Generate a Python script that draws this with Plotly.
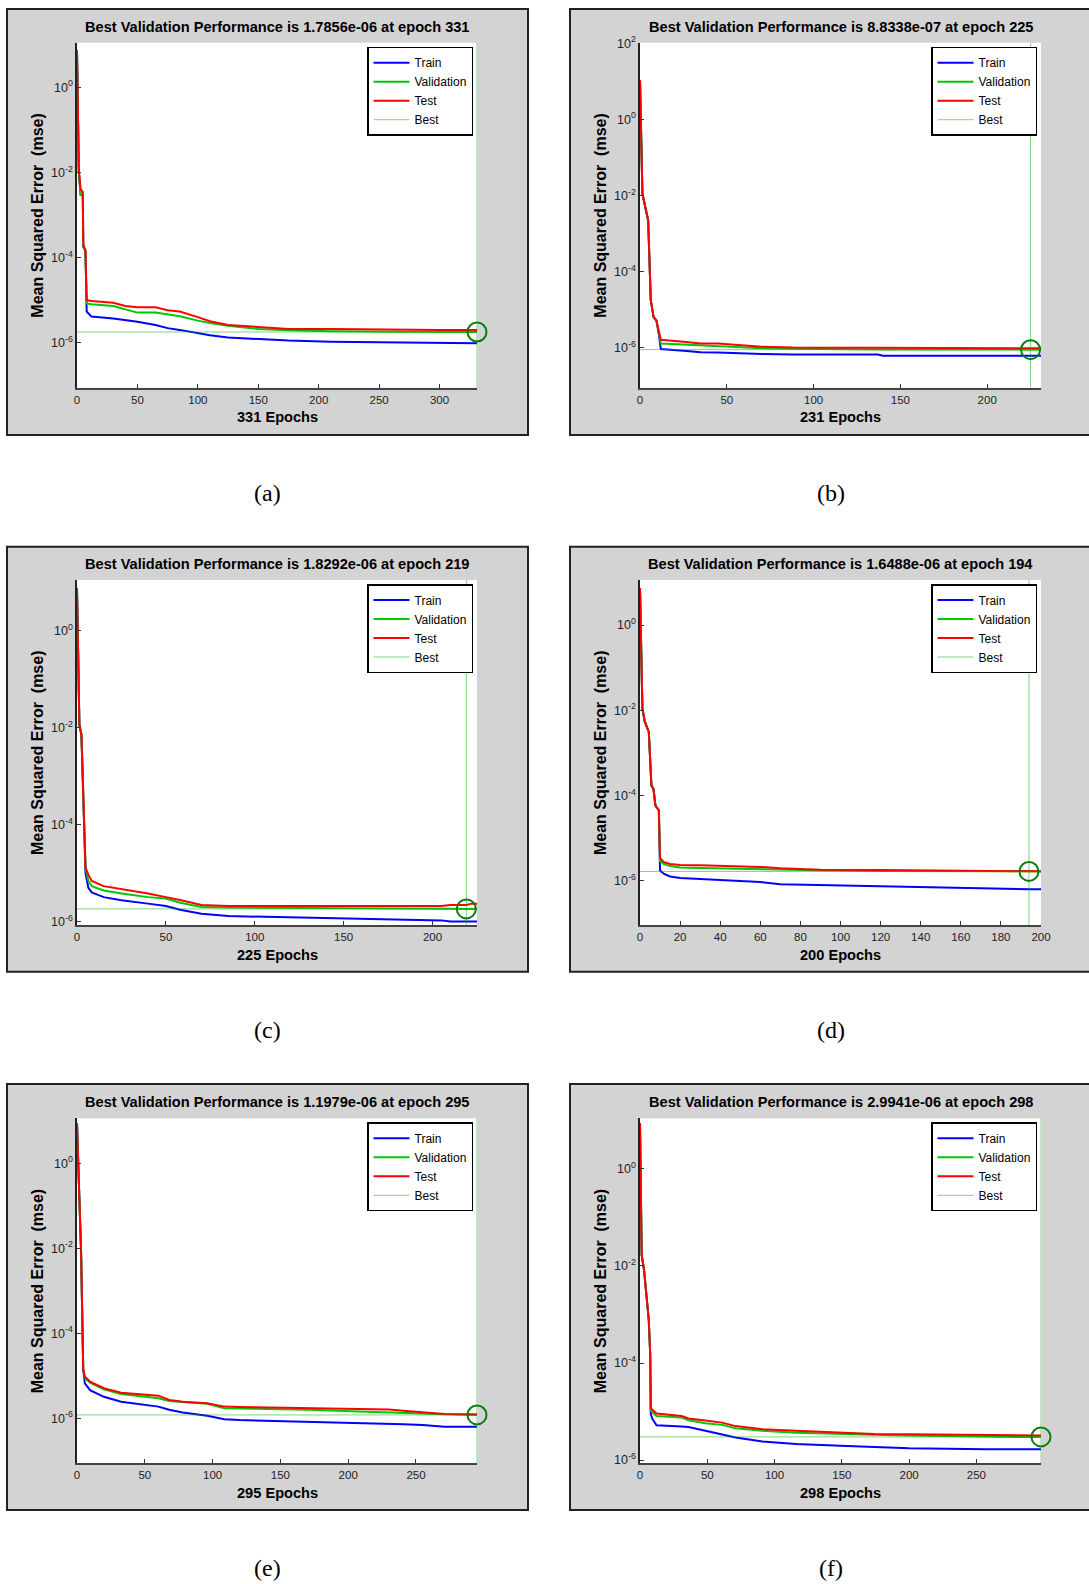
import plotly.graph_objects as go

W, H = 1089, 1584
FONT = "Liberation Sans, Arial, sans-serif"

# ---------------- data ----------------
panel_labels = ["(a)", "(b)", "(c)", "(d)", "(e)", "(f)"]
n_epochs = [331, 231, 225, 200, 295, 298]
best_epoch = [331, 225, 219, 194, 295, 298]
best_perf = [1.7856e-06, 8.8338e-07, 1.8292e-06, 1.6488e-06, 1.1979e-06, 2.9941e-06]

epochs_a = [0, 1.5, 3, 4.8, 5.2, 7, 8, 12, 30, 40, 50, 65, 75, 85, 100, 110, 125, 150, 175, 210, 265, 300, 331]
train_a = [7, 0.01, 0.003, 0.003, 1.8e-4, 1.4e-4, 5.4e-6, 4.1e-6, 3.7e-6, 3.4e-6, 3.1e-6, 2.6e-6, 2.2e-6, 2.0e-6,
           1.66e-6, 1.5e-6, 1.33e-6, 1.2e-6, 1.12e-6, 1.05e-6, 1.0e-6, 9.7e-7, 9.7e-7]
val_a = [7, 0.01, 0.003, 0.003, 1.8e-4, 1.4e-4, 8.4e-6, 8.0e-6, 7.3e-6, 6.2e-6, 5.1e-6, 5.1e-6, 4.6e-6, 4.2e-6,
         3.3e-6, 2.9e-6, 2.5e-6, 2.1e-6, 1.95e-6, 1.85e-6, 1.82e-6, 1.8e-6, 1.7856e-6]
test_a = [7.5, 0.012, 0.004, 0.0035, 2e-4, 1.5e-4, 1.0e-5, 9.5e-6, 8.7e-6, 7.3e-6, 6.8e-6, 6.8e-6, 5.8e-6, 5.4e-6,
          4.0e-6, 3.2e-6, 2.6e-6, 2.3e-6, 2.1e-6, 2.1e-6, 2.0e-6, 2.0e-6, 2.0e-6]

epochs_b = [0, 1.4, 4.7, 6.2, 7.8, 9.5, 11, 12, 25, 35, 45, 55, 70, 88, 125, 137, 140, 200, 225, 231]
train_b = [10.7, 0.011, 0.0022, 1.8e-5, 6.3e-6, 5.0e-6, 2.0e-6, 9.2e-7, 8.3e-7, 7.6e-7, 7.4e-7, 7.1e-7, 6.8e-7,
           6.6e-7, 6.6e-7, 6.6e-7, 6.1e-7, 6.1e-7, 6.1e-7, 6.1e-7]
val_b = [10.7, 0.011, 0.0022, 1.8e-5, 6.3e-6, 5.0e-6, 2.3e-6, 1.28e-6, 1.2e-6, 1.15e-6, 1.1e-6, 1.02e-6, 9.6e-7,
         9.3e-7, 8.9e-7, 8.9e-7, 8.86e-7, 8.85e-7, 8.8338e-7, 8.84e-7]
test_b = [10.7, 0.011, 0.0022, 1.8e-5, 6.5e-6, 5.2e-6, 2.5e-6, 1.6e-6, 1.43e-6, 1.28e-6, 1.28e-6, 1.17e-6, 1.05e-6,
          1.0e-6, 1.0e-6, 9.6e-7, 9.6e-7, 9.6e-7, 9.6e-7, 9.6e-7]

epochs_c = [0, 1.35, 2.5, 4.8, 6.4, 8.3, 15, 25, 40, 50, 58, 70, 85, 120, 150, 180, 205, 210, 219, 222, 225]
train_c = [7.6, 0.0115, 0.0072, 1.0e-5, 5.0e-6, 4.0e-6, 3.2e-6, 2.75e-6, 2.35e-6, 2.1e-6, 1.75e-6, 1.45e-6,
           1.3e-6, 1.22e-6, 1.13e-6, 1.1e-6, 1.06e-6, 1.0e-6, 1.0e-6, 1.0e-6, 1.0e-6]
val_c = [7.6, 0.0115, 0.0072, 1.3e-5, 6.9e-6, 5.4e-6, 4.4e-6, 3.8e-6, 3.2e-6, 3.0e-6, 2.45e-6, 2.0e-6, 1.95e-6,
         1.9e-6, 1.87e-6, 1.85e-6, 1.84e-6, 1.84e-6, 1.8292e-6, 1.83e-6, 1.835e-6]
test_c = [7.6, 0.0115, 0.0072, 1.3e-5, 9.3e-6, 6.9e-6, 5.4e-6, 4.7e-6, 3.8e-6, 3.2e-6, 2.8e-6, 2.2e-6, 2.1e-6,
          2.1e-6, 2.1e-6, 2.1e-6, 2.1e-6, 2.2e-6, 2.2e-6, 2.35e-6, 2.35e-6]

epochs_d = [0, 1.2, 2.4, 4.4, 5.7, 6.7, 7.7, 9.4, 10, 12, 15, 20, 30, 50, 60, 70, 90, 120, 163, 190, 194, 200]
train_d = [7.3, 0.011, 0.0054, 0.0031, 1.7e-4, 1.45e-4, 5.8e-5, 4.5e-5, 1.73e-6, 1.44e-6, 1.26e-6, 1.15e-6,
           1.1e-6, 1.0e-6, 9.3e-7, 8.3e-7, 7.9e-7, 7.5e-7, 6.8e-7, 6.3e-7, 6.3e-7, 6.3e-7]
val_d = [7.3, 0.011, 0.0054, 0.0031, 1.7e-4, 1.45e-4, 5.8e-5, 4.5e-5, 2.9e-6, 2.45e-6, 2.2e-6, 2.05e-6, 2.0e-6,
         1.9e-6, 1.85e-6, 1.8e-6, 1.75e-6, 1.7e-6, 1.67e-6, 1.655e-6, 1.6488e-6, 1.65e-6]
test_d = [7.3, 0.011, 0.0054, 0.0031, 1.7e-4, 1.45e-4, 5.8e-5, 4.5e-5, 3.4e-6, 2.7e-6, 2.46e-6, 2.35e-6, 2.3e-6,
          2.2e-6, 2.1e-6, 1.95e-6, 1.8e-6, 1.78e-6, 1.73e-6, 1.68e-6, 1.66e-6, 1.66e-6]

epochs_e = [0, 2.5, 3, 4.6, 5.8, 9.6, 19.8, 32.5, 45, 60, 68, 78, 96, 108.7, 120, 145, 172, 207.6, 230, 240.7,
            255, 271, 295]
train_e = [8.7, 0.011, 0.0083, 1.4e-5, 6.6e-6, 4.6e-6, 3.2e-6, 2.45e-6, 2.18e-6, 1.88e-6, 1.58e-6, 1.36e-6,
           1.15e-6, 9.5e-7, 9.1e-7, 8.7e-7, 8.2e-7, 7.9e-7, 7.4e-7, 7.2e-7, 6.9e-7, 6.3e-7, 6.3e-7]
val_e = [8.7, 0.011, 0.0083, 1.4e-5, 9.0e-6, 6.9e-6, 4.8e-6, 3.7e-6, 3.3e-6, 2.95e-6, 2.55e-6, 2.4e-6, 2.2e-6,
         1.72e-6, 1.7e-6, 1.65e-6, 1.58e-6, 1.45e-6, 1.4e-6, 1.36e-6, 1.3e-6, 1.25e-6, 1.1979e-6]
test_e = [8.7, 0.011, 0.0083, 1.4e-5, 9.5e-6, 7.3e-6, 5.1e-6, 4.0e-6, 3.7e-6, 3.4e-6, 2.7e-6, 2.45e-6, 2.25e-6,
          1.88e-6, 1.85e-6, 1.8e-6, 1.75e-6, 1.63e-6, 1.6e-6, 1.51e-6, 1.36e-6, 1.26e-6, 1.25e-6]

epochs_f = [0, 1.25, 3, 4.8, 6.5, 7.6, 8, 9, 12.3, 31, 36, 48.6, 61, 71, 91, 116, 149, 174, 200, 257, 267, 298]
train_f = [8.8, 0.017, 0.0083, 0.0023, 7.8e-4, 1.5e-4, 9.1e-6, 7.2e-6, 5.2e-6, 4.9e-6, 4.8e-6, 4.0e-6, 3.3e-6,
           2.9e-6, 2.4e-6, 2.15e-6, 1.97e-6, 1.85e-6, 1.74e-6, 1.66e-6, 1.66e-6, 1.66e-6]
val_f = [8.8, 0.017, 0.0083, 0.0023, 7.8e-4, 1.5e-4, 1.05e-5, 9.8e-6, 8.1e-6, 7.5e-6, 6.6e-6, 5.7e-6, 5.3e-6,
         4.5e-6, 4.0e-6, 3.65e-6, 3.4e-6, 3.3e-6, 3.2e-6, 3.0e-6, 3.0e-6, 2.9941e-6]
test_f = [8.8, 0.017, 0.0083, 0.0023, 7.8e-4, 1.5e-4, 1.17e-5, 1.1e-5, 9.1e-6, 8.1e-6, 7.2e-6, 6.5e-6, 5.9e-6,
          5.0e-6, 4.3e-6, 4.0e-6, 3.65e-6, 3.45e-6, 3.4e-6, 3.35e-6, 3.3e-6, 3.2e-6]

xticks_a = [0, 50, 100, 150, 200, 250, 300]
xticks_b = [0, 50, 100, 150, 200]
xticks_c = [0, 50, 100, 150, 200]
xticks_d = [0, 20, 40, 60, 80, 100, 120, 140, 160, 180, 200]
xticks_e = [0, 50, 100, 150, 200, 250]
xticks_f = [0, 50, 100, 150, 200, 250]

ytick_exp_a = [-6, -4, -2, 0]
ytick_exp_b = [-6, -4, -2, 0, 2]
ytick_exp_c = [-6, -4, -2, 0]
ytick_exp_d = [-6, -4, -2, 0]
ytick_exp_e = [-6, -4, -2, 0]
ytick_exp_f = [-6, -4, -2, 0]

series = [
    (epochs_a, train_a, val_a, test_a, xticks_a, ytick_exp_a),
    (epochs_b, train_b, val_b, test_b, xticks_b, ytick_exp_b),
    (epochs_c, train_c, val_c, test_c, xticks_c, ytick_exp_c),
    (epochs_d, train_d, val_d, test_d, xticks_d, ytick_exp_d),
    (epochs_e, train_e, val_e, test_e, xticks_e, ytick_exp_e),
    (epochs_f, train_f, val_f, test_f, xticks_f, ytick_exp_f),
]

# ---------------- layout geometry (page pixels) ----------------
col_plot_x = [(77, 477), (640, 1041)]
row_plot_y = [(42.7, 387.7), (580, 925), (1118.3, 1463.3)]
col_box_x = [(7, 528), (570, 1100)]
row_box_y = [(9, 435), (546.7, 971.7), (1084, 1510)]
y_log_range = [(-7.057, 1.048), (-7.054, 2.013), (-6.07, 1.05),
               (-7.04, 1.059), (-7.06, 1.059), (-6.068, 1.045)]
caption_y = [493, 1030, 1568]
caption_x = [267, 831]


def px(x):
    return x / W


def py(y):
    return 1 - y / H


fig = go.Figure()
shapes = []
annotations = []
layout = {}

for i, (ep, tr, va, te, xt, yexp) in enumerate(series):
    r, c = divmod(i, 2)
    x0, x1 = col_plot_x[c]
    y0, y1 = row_plot_y[r]
    bx0, bx1 = col_box_x[c]
    by0, by1 = row_box_y[r]
    sfx = "" if i == 0 else str(i + 1)
    xa, ya = "x" + sfx, "y" + sfx
    lg = "legend" + sfx
    lo, hi = y_log_range[i]

    # gray panel box and white plot area
    shapes.append(dict(type="rect", xref="paper", yref="paper", x0=px(bx0), x1=px(bx1), y0=py(by1), y1=py(by0),
                       fillcolor="#d3d3d3", line=dict(color="#222222", width=2), layer="below"))
    shapes.append(dict(type="rect", xref="paper", yref="paper", x0=px(x0), x1=px(x1), y0=py(y1), y1=py(y0),
                       fillcolor="white", line=dict(width=0), layer="below"))

    for name, vals, col in (("Train", tr, "#0000ff"), ("Validation", va, "#00c800"), ("Test", te, "#ff0000")):
        fig.add_trace(go.Scatter(x=ep, y=vals, mode="lines", name=name, line=dict(color=col, width=2),
                                 xaxis=xa, yaxis=ya, legend=lg))
    be, bp = best_epoch[i], best_perf[i]
    fig.add_trace(go.Scatter(x=[be, be, None, 0, n_epochs[i]], y=[10 ** lo, 10 ** hi, None, bp, bp],
                             mode="lines", name="Best", line=dict(color="rgba(0,170,0,0.5)", width=1),
                             xaxis=xa, yaxis=ya, legend=lg))
    fig.add_trace(go.Scatter(x=[be], y=[bp], mode="markers", showlegend=False, cliponaxis=False,
                             marker=dict(symbol="circle-open", size=19, color="#0a7d0a", line=dict(width=2)),
                             xaxis=xa, yaxis=ya))

    layout["xaxis" + sfx] = dict(domain=[px(x0), px(x1)], anchor=ya, range=[0, n_epochs[i]], tickmode="array",
                                 tickvals=xt, ticks="inside", ticklen=4, tickcolor="#333", showline=True,
                                 linecolor="#444", linewidth=2, showgrid=False, zeroline=False, automargin=False,
                                 tickfont=dict(family=FONT, size=11.5, color="#222"))
    layout["yaxis" + sfx] = dict(domain=[py(y1), py(y0)], anchor=xa, type="log", range=[lo, hi], tickmode="array",
                                 tickvals=[10 ** e for e in yexp],
                                 ticktext=["10<sup>%d</sup>" % e for e in yexp],
                                 ticks="inside", ticklen=4, tickcolor="#333", showline=True, linecolor="#222",
                                 linewidth=1.5, showgrid=False, zeroline=False, ticklabelstandoff=0,
                                 automargin=False, tickfont=dict(family=FONT, size=12.5, color="#222"))
    layout[lg] = dict(x=px(x1 - 4), y=py(y0 + 4), xanchor="right", yanchor="top", bgcolor="white",
                      bordercolor="black", borderwidth=1.5, font=dict(family=FONT, size=12, color="black"),
                      tracegroupgap=0, itemwidth=36)

    cx = (x0 + x1) / 2
    annotations.append(dict(text="<b>Best Validation Performance is %.4e at epoch %d</b>" % (bp, be),
                            xref="paper", yref="paper", x=px(cx), y=py(y0 - 16), xanchor="center",
                            yanchor="middle", showarrow=False, font=dict(family=FONT, size=14.6, color="black")))
    annotations.append(dict(text="<b>%d Epochs</b>" % n_epochs[i], xref="paper", yref="paper", x=px(cx),
                            y=py(y1 + 29.5), xanchor="center", yanchor="middle", showarrow=False,
                            font=dict(family=FONT, size=14.6, color="black")))
    annotations.append(dict(text="<b>Mean Squared Error  (mse)</b>", xref="paper", yref="paper",
                            x=px(x0 - 39.5), y=py((y0 + y1) / 2), xanchor="center", yanchor="middle",
                            textangle=-90, showarrow=False, font=dict(family=FONT, size=16, color="black")))
    annotations.append(dict(text=panel_labels[i], xref="paper", yref="paper", x=px(caption_x[c]),
                            y=py(caption_y[r]), xanchor="center", yanchor="middle", showarrow=False,
                            font=dict(family="Liberation Serif, Times New Roman, serif", size=24, color="black")))

fig.update_layout(width=W, height=H, margin=dict(l=0, r=0, t=0, b=0, autoexpand=False), paper_bgcolor="white",
                  plot_bgcolor="rgba(0,0,0,0)", shapes=shapes, annotations=annotations, **layout)
fig.write_html("out.html")
